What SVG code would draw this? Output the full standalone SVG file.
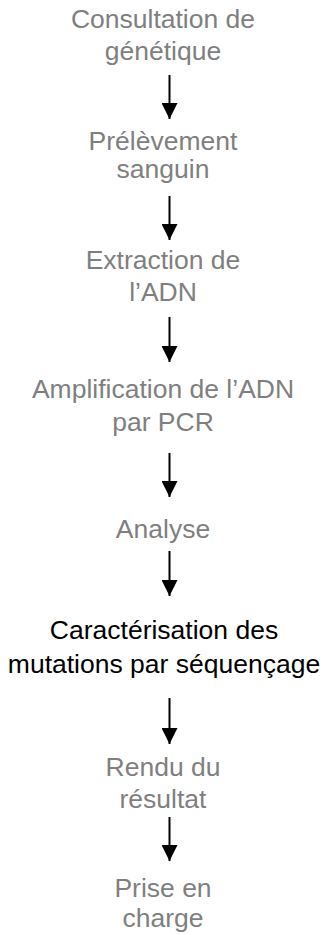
<svg xmlns="http://www.w3.org/2000/svg" width="327" height="935" viewBox="0 0 327 935">
<defs>
<style>
text{font-family:"Liberation Sans",Arial,sans-serif;font-size:26.5px;text-anchor:middle;fill:#7f7f7f}
text.dark{fill:#000}
.conn line{stroke:#000;stroke-width:2}
</style>
<marker id="ah" markerWidth="8" markerHeight="8" refX="8" refY="4" orient="auto" markerUnits="strokeWidth" viewBox="0 0 8 8"><path d="M0,0 L8,4 L0,8 Z" fill="#000"/></marker>
</defs>
<rect width="327" height="935" fill="#fff"/>
<g id="n1"><text x="163" y="28">Consultation de</text><text x="163" y="60">génétique</text></g>
<g id="n2"><text x="163" y="150">Prélèvement</text><text x="163" y="178">sanguin</text></g>
<g id="n3"><text x="163" y="269">Extraction de</text><text x="163" y="301">l’ADN</text></g>
<g id="n4"><text x="163" y="398">Amplification de l’ADN</text><text x="163" y="431">par PCR</text></g>
<g id="n5"><text x="163" y="538">Analyse</text></g>
<g id="n6"><text class="dark" x="164" y="639">Caractérisation des</text><text class="dark" x="164" y="673">mutations par séquençage</text></g>
<g id="n7"><text x="163" y="776">Rendu du</text><text x="163" y="808">résultat</text></g>
<g id="n8"><text x="163" y="897">Prise en</text><text x="163" y="927">charge</text></g>
<g class="conn" id="connectors">
<line x1="169.5" y1="75" x2="169.5" y2="119" marker-end="url(#ah)"/>
<line x1="169.5" y1="196" x2="169.5" y2="240" marker-end="url(#ah)"/>
<line x1="169.5" y1="317" x2="169.5" y2="362" marker-end="url(#ah)"/>
<line x1="169.5" y1="453" x2="169.5" y2="497" marker-end="url(#ah)"/>
<line x1="169.5" y1="551" x2="169.5" y2="596" marker-end="url(#ah)"/>
<line x1="169.5" y1="698" x2="169.5" y2="744" marker-end="url(#ah)"/>
<line x1="169.5" y1="817" x2="169.5" y2="861" marker-end="url(#ah)"/>
</g>
</svg>
